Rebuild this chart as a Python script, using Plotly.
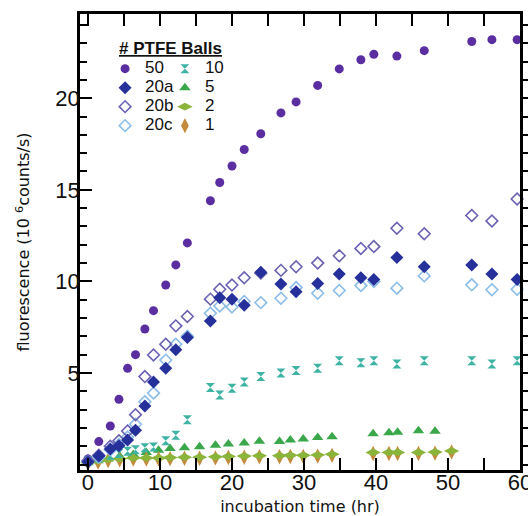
import plotly.graph_objects as go

# ---- data ----
t_main = [0, 1.5, 3.1, 4.3, 5.5, 6.6, 7.9, 9.1, 10.8, 12.2, 13.8, 17.0, 18.3, 20.0,
          21.7, 24.0, 26.8, 28.9, 31.9, 34.9, 37.9, 39.7, 42.9, 46.7, 53.3, 56.1, 59.6]
y_50 = [0.3, 1.25, 2.1, 3.56, 5.25, 6.0, 7.4, 8.4, 9.8, 10.9, 12.1, 14.4, 15.4, 16.3,
        17.2, 18.06, 19.2, 19.8, 20.7, 21.6, 22.1, 22.4, 22.3, 22.6, 23.1, 23.2, 23.2]
y_20a = [0.14, 0.46, 0.85, 1.03, 1.34, 1.87, 3.2, 4.5, 5.26, 6.26, 6.93, 7.84, 9.1, 9.03,
         8.7, 10.5, 9.85, 9.44, 9.88, 10.4, 10.2, 10.1, 11.3, 10.8, 10.9, 10.4, 10.1]
y_20b = [0.2, 0.5, 1.0, 1.3, 1.83, 2.72, 4.8, 5.98, 6.57, 7.57, 8.08, 9.03, 9.57, 9.8,
         10.2, 10.45, 10.6, 10.8, 11.0, 11.4, 11.8, 11.9, 12.9, 12.6, 13.6, 13.3, 14.5]
y_20c = [0.15, 0.4, 0.8, 1.1, 1.5, 2.2, 3.43, 3.9, 5.7, 6.57, 7.0, 8.26, 8.66, 8.6,
         8.9, 8.84, 9.08, 9.66, 9.35, 9.5, 9.77, 9.99, 9.63, 10.3, 9.81, 9.54, 9.57]
y_10 = [0.2, 0.35, 0.5, 0.6, 0.72, 0.8, 0.92, 0.95, 1.3, 1.6, 2.45, 4.2, 3.8, 4.16,
        4.5, 4.8, 5.0, 5.13, 5.26, 5.67, 5.55, 5.66, 5.49, 5.67, 5.67, 5.49, 5.67]

t_low = [0, 1.4, 2.8, 4.4, 6.3, 8.1, 9.8, 11.4, 13.4, 15.5, 17.7, 19.5, 21.7, 23.8,
         26.6, 28.1, 29.9, 31.9, 33.9, 39.6, 41.8, 43.0, 45.9, 48.2, 50.5]
y_5 = [0.1, 0.2, 0.3, 0.45, 0.55, 0.65, 0.78, 0.88, 0.92, 0.97, 1.05, 1.12, 1.17, 1.27,
       1.25, 1.34, 1.39, 1.47, 1.52, 1.68, 1.74, 1.76, 1.84, 1.82]
y_2 = [0.1, 0.2, 0.28, 0.32, 0.36, 0.36, 0.36, 0.38, 0.4, 0.4, 0.42, 0.44, 0.46, 0.48,
       0.48, 0.5, 0.5, 0.52, 0.56, 0.66, 0.66, 0.66, 0.66, 0.68, 0.74]
y_1 = [0.05, 0.14, 0.22, 0.26, 0.3, 0.3, 0.3, 0.32, 0.34, 0.34, 0.36, 0.38, 0.4, 0.42,
       0.42, 0.44, 0.44, 0.46, 0.5, 0.6, 0.6, 0.6, 0.6, 0.62, 0.68]

x_ticks = [0, 10, 20, 30, 40, 50, 60]
y_ticks = [5, 10, 15, 20]

LBL = '<span style="font-size:17px">{}</span>'

fig = go.Figure()


def add(x, y, name, symbol, color, size, legend, lw=0, lcolor=None):
    fig.add_trace(go.Scatter(
        x=x, y=y, mode="markers", name=LBL.format(name), legend=legend,
        marker=dict(symbol=symbol, color=color, size=size,
                    line=dict(width=lw, color=lcolor or color)),
        cliponaxis=False))


add(t_main, y_50, "50", "circle", "#5a2ea0", 9, "legend")
add(t_low[:len(y_5)], y_5, "5", "triangle-up", "#3aa84a", 10, "legend2")
add(t_low, y_1, "1", "diamond-tall", "#c48a3c", 11, "legend2")
add(t_low, y_2, "2", "diamond-wide", "#8ab43a", 11, "legend2")
add(t_main, y_10, "10", "hourglass", "#3fb3a3", 9, "legend2")
add(t_main, y_20c, "20c", "diamond-open", "#8cbde8", 9, "legend", 1.6)
add(t_main, y_20b, "20b", "diamond-open", "#6a62b2", 9, "legend", 1.6)
add(t_main, y_20a, "20a", "diamond", "#25309a", 10, "legend")

# legend order
order1 = {"50": 1, "20a": 2, "20b": 3, "20c": 4}
order2 = {"10": 1, "5": 2, "2": 3, "1": 4}
for tr in fig.data:
    key = tr.name.split(">")[1].split("<")[0]
    tr.legendrank = order1.get(key, order2.get(key, 5)) * 10

tickfont = dict(family="Liberation Sans, Arial", size=22, color="#111")
fig.update_layout(
    width=528, height=516,
    margin=dict(l=80, r=8, t=14, b=46),
    paper_bgcolor="white", plot_bgcolor="white",
    showlegend=True,
    xaxis=dict(range=[-1.11, 60], tickvals=x_ticks, ticks="inside", ticklen=12, tickwidth=2,
               tickcolor="black", showline=True, linewidth=2.5, linecolor="black",
               mirror="allticks", showgrid=False, zeroline=False, tickfont=tickfont,
               automargin=False, ticklabeloverflow="allow", ticklabelstandoff=-9,
               minor=dict(dtick=5, tick0=0, ticks="inside", ticklen=7, tickwidth=2,
                          tickcolor="black", showgrid=False),
               title=dict(text="incubation time (hr)", standoff=10,
                          font=dict(family="DejaVu Sans", size=16, color="#111"))),
    yaxis=dict(range=[-0.3, 24.6], tickvals=y_ticks, ticks="inside", ticklen=12, tickwidth=2,
               tickcolor="black", showline=True, linewidth=2.5, linecolor="black",
               mirror=False, showgrid=False, zeroline=False, tickfont=tickfont,
               automargin=False, ticklabelstandoff=-7,
               minor=dict(dtick=1, tick0=0, ticks="inside", ticklen=7, tickwidth=2,
                          tickcolor="black", showgrid=False),
               title=dict(text="fluorescence (10 <sup>6</sup>counts/s)", standoff=22,
                          font=dict(family="DejaVu Sans", size=16, color="#111"))),
    yaxis2=dict(range=[-0.3, 24.6], overlaying="y", side="right", tickvals=y_ticks,
                ticks="outside", ticklen=12, tickwidth=2, tickcolor="black",
                showticklabels=False, showline=True, linewidth=2.5, linecolor="black",
                showgrid=False, zeroline=False, automargin=False,
                minor=dict(dtick=1, tick0=0, ticks="outside", ticklen=7, tickwidth=2,
                           tickcolor="black", showgrid=False)),
    legend=dict(x=0.057, y=0.912, xanchor="left", yanchor="top", bgcolor="rgba(0,0,0,0)",
                font=dict(family="Liberation Sans, Arial", size=11, color="#111"),
                tracegroupgap=0, traceorder="normal"),
    legend2=dict(x=0.193, y=0.912, xanchor="left", yanchor="top", bgcolor="rgba(0,0,0,0)",
                 font=dict(family="Liberation Sans, Arial", size=11, color="#111"),
                 tracegroupgap=0, traceorder="normal"),
    annotations=[dict(text="<b><u># PTFE Balls</u></b>", xref="paper", yref="paper",
                      x=0.084, y=0.925, xanchor="left", yanchor="middle", showarrow=False,
                      font=dict(family="Liberation Sans, Arial", size=17, color="#111"))],
)
# dummy trace to activate yaxis2
fig.add_trace(go.Scatter(x=[None], y=[None], yaxis="y2", showlegend=False))

fig.write_html("out.html")
